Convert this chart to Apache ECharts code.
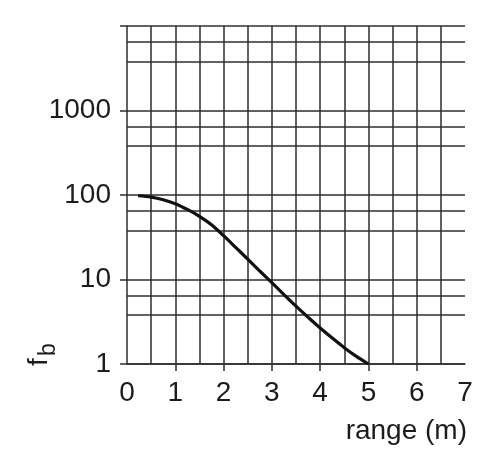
<!DOCTYPE html>
<html>
<head>
<meta charset="utf-8">
<script src="https://cdn.jsdelivr.net/npm/echarts@6/dist/echarts.min.js"></script>
<style>
  html, body { margin: 0; padding: 0; background: #fff; }
  #chart { width: 500px; height: 465px; }
</style>
</head>
<body>
<div id="chart"></div>
<script>
// 曲线数据 (range in m, fb)
const rangeM = [0.23, 0.5, 0.75, 1.0, 1.25, 1.5, 1.75, 2.0, 2.25, 2.5, 2.75, 3.0, 3.25, 3.5, 3.75, 4.0, 4.25, 4.5, 4.75, 5.0]
const fbValues = [98, 94.5, 88, 79, 67.5, 56, 44.5, 33, 24, 17.4, 12.6, 9.16, 6.64, 4.84, 3.57, 2.67, 2.03, 1.56, 1.23, 1.0]
// 每个十倍程内的两条附加横线
const extraGridY = [3.8, 6.5, 38, 65, 380, 650, 3800, 6500]
const xTickValues = [1, 2, 3, 4, 5, 6]

const FONT = 'Liberation Sans, Arial, sans-serif'
const INK = '#1c1c1c'
const GRID = '#2e2e2e'

const chart = echarts.init(document.getElementById('chart'))

const option = {
  animation: false,
  grid: { left: 127, right: 35, top: 26, bottom: 101 },
  xAxis: {
    type: 'value',
    min: 0,
    max: 7,
    interval: 1,
    axisLine: { show: true, lineStyle: { color: GRID, width: 1.5 } },
    axisTick: { show: true, length: 7, customValues: xTickValues, lineStyle: { color: GRID, width: 1.5 } },
    axisLabel: { margin: 15, fontSize: 28, color: INK, fontFamily: FONT },
    splitLine: { show: true, lineStyle: { color: GRID, width: 1.5 } },
    minorTick: { show: false, splitNumber: 2 },
    minorSplitLine: { show: true, lineStyle: { color: GRID, width: 1.5 } },
  },
  yAxis: {
    type: 'log',
    logBase: 10,
    min: 1,
    max: 10000,
    axisLine: { show: true, lineStyle: { color: GRID, width: 1.5 } },
    axisTick: { show: true, length: 7, lineStyle: { color: GRID, width: 1.5 } },
    axisLabel: {
      margin: 16,
      fontSize: 28,
      color: INK,
      fontFamily: FONT,
      formatter: (v) => (v >= 10000 ? '' : String(v)),
    },
    splitLine: { show: true, lineStyle: { color: GRID, width: 1.5 } },
  },
  series: [
    {
      type: 'line',
      data: rangeM.map((x, i) => [x, fbValues[i]]),
      smooth: 0.3,
      showSymbol: false,
      lineStyle: { color: '#111', width: 3.2 },
      z: 5,
      markLine: {
        silent: true,
        symbol: 'none',
        label: { show: false },
        animation: false,
        lineStyle: { color: GRID, width: 1.5, type: 'solid' },
        data: extraGridY.map((v) => ({ yAxis: v })),
      },
    },
  ],
  graphic: [
    {
      type: 'text',
      x: 467,
      y: 431,
      style: { text: 'range (m)', fontSize: 28, fontFamily: FONT, fill: INK, textAlign: 'right', textVerticalAlign: 'middle' },
    },
    {
      type: 'text',
      x: 39,
      y: 366,
      rotation: Math.PI / 2,
      style: { text: 'f', fontSize: 28, fontFamily: FONT, fill: INK, textAlign: 'left', textVerticalAlign: 'middle' },
    },
    {
      type: 'text',
      x: 49,
      y: 356,
      rotation: Math.PI / 2,
      style: { text: 'b', fontSize: 23, fontFamily: FONT, fill: INK, textAlign: 'left', textVerticalAlign: 'middle' },
    },
  ],
}

chart.setOption(option)
</script>
</body>
</html>
